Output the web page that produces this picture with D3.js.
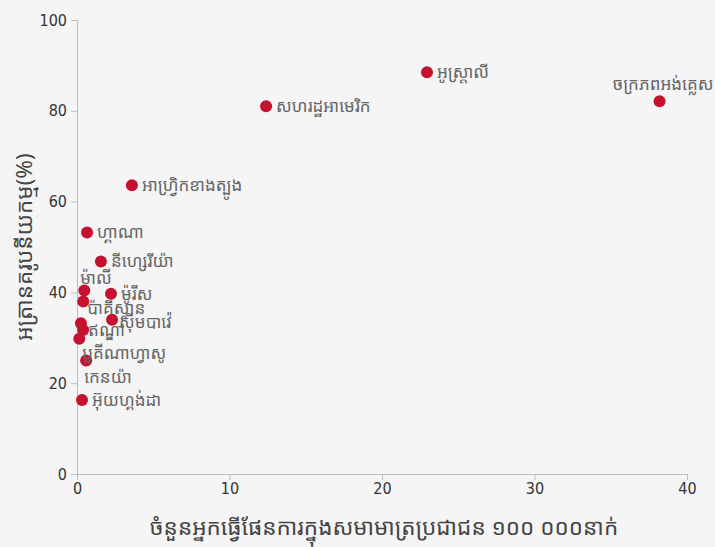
<!DOCTYPE html>
<html>
<head>
<meta charset="utf-8">
<script src="https://cdn.jsdelivr.net/npm/d3@7"></script>
<style>
  body { margin: 0; background: #f5f5f5; }
  .axis path, .axis line { stroke: #bdbdbd; }
  .axis text { font-family: "DejaVu Sans Condensed", "Liberation Sans Narrow", sans-serif; font-size: 16px; fill: #333; }
  .lbl { font-family: "Noto Sans Khmer", "Khmer OS", sans-serif; font-size: 17px; fill: #666; }
  .title { font-family: "Noto Sans Khmer", "Khmer OS", sans-serif; font-size: 22.5px; fill: #444; }
</style>
</head>
<body>
<div class="chart"></div>
<script>
// data
const countries = ["ចក្រភពអង់គ្លេស", "អូស្ត្រាលី", "សហរដ្ឋអាមេរិក", "អាហ្វ្រិកខាងត្បូង", "ហ្គាណា",
  "នីហ្សេរីយ៉ា", "ម៉ាលី", "ម៉ូរីស", "ប៉ាគីស្ថាន", "ស៊ីមបាវ៉េ", "", "ឥណ្ឌា", "បួគីណាហ្វាសូ", "កេនយ៉ា", "អ៊ុយហ្គង់ដា"];
const planners = [38.2, 22.95, 12.4, 3.6, 0.66, 1.57, 0.48, 2.23, 0.41, 2.3, 0.26, 0.4, 0.15, 0.6, 0.33];
const urbanRate = [82.1, 88.5, 81.0, 63.6, 53.2, 46.8, 40.4, 39.7, 38.0, 34.0, 33.2, 31.7, 29.8, 25.0, 16.3];
const xTicks = [0, 10, 20, 30, 40];
const yTicks = [0, 20, 40, 60, 80, 100];

// label placement: [dx, dy, anchor]
const labelPos = {
  "ចក្រភពអង់គ្លេស": [54, -17, "end"],
  "ម៉ាលី": [-4, -13, "start"],
  "ប៉ាគីស្ថាន": [4, 7, "start"],
  "ស៊ីមបាវ៉េ": [7, 2, "start"],
  "ឥណ្ឌា": [5, 0, "start"],
  "បួគីណាហ្វាសូ": [3, 14, "start"],
  "កេនយ៉ា": [-2, 17, "start"]
};

const margin = ({top: 20, right: 28, bottom: 73, left: 77});
const width = 715 - margin.left - margin.right,
    height = 547 - margin.top - margin.bottom;

const svg = d3.select(".chart").append("svg")
    .attr("width", width + margin.left + margin.right)
    .attr("height", height + margin.top + margin.bottom)
    .append("g")
    .attr("transform", "translate(" + margin.left + "," + margin.top + ")");

const xScale = d3.scaleLinear().domain([0, 40]).range([0, width]);
const yScale = d3.scaleLinear().domain([0, 100]).range([height, 0]);

// Axis
svg.append("g")
    .attr("class", "axis x-axis")
    .attr("transform", "translate(0," + height + ")")
    .call(d3.axisBottom(xScale).tickValues(xTicks).tickSize(6).tickSizeOuter(0).tickPadding(3));

svg.append("g")
    .attr("class", "axis y-axis")
    .call(d3.axisLeft(yScale).tickValues(yTicks).tickSize(6).tickSizeOuter(0).tickPadding(4));

// Axis titles
svg.append("text")
    .attr("class", "title")
    .attr("x", width / 2 + 2)
    .attr("y", height + 61)
    .attr("text-anchor", "middle")
    .text("ចំនួនអ្នកធ្វើផែនការក្នុងសមាមាត្រប្រជាជន ១០០ ០០០នាក់");

svg.append("text")
    .attr("class", "title")
    .attr("transform", "translate(-45," + yScale(50) + ") rotate(-90)")
    .attr("text-anchor", "middle")
    .text("អត្រានគរូបនីយកម្ម(%)");

const data = countries.map((c, i) => ({name: c, x: planners[i], y: urbanRate[i]}));

svg.selectAll(".dot")
    .data(data)
    .enter()
    .append("circle")
    .attr("class", "dot")
    .attr("cx", d => xScale(d.x))
    .attr("cy", d => yScale(d.y))
    .attr("r", 6)
    .attr("fill", "#c4122f");

svg.selectAll(".lbl")
    .data(data.filter(d => d.name))
    .enter()
    .append("text")
    .attr("class", "lbl")
    .attr("x", d => xScale(d.x) + (labelPos[d.name] ? labelPos[d.name][0] : 10))
    .attr("y", d => yScale(d.y) + (labelPos[d.name] ? labelPos[d.name][1] : 0))
    .attr("dy", "0.35em")
    .attr("text-anchor", d => labelPos[d.name] ? labelPos[d.name][2] : "start")
    .text(d => d.name);
</script>
</body>
</html>
